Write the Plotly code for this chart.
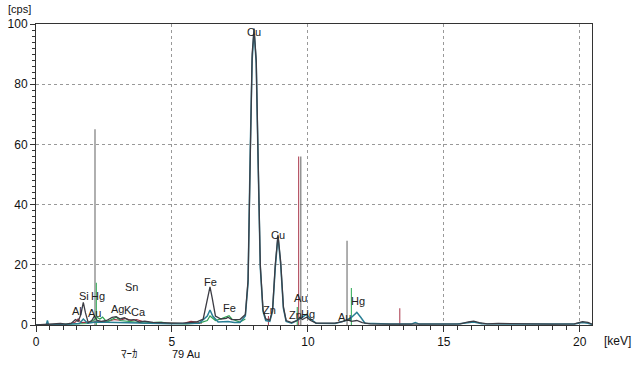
import plotly.graph_objects as go

# ---- data ----
# main spectrum (dark)
dark_e = [0.0, 0.3, 0.6, 0.9, 1.1, 1.3, 1.45, 1.55, 1.65, 1.74, 1.82, 1.92, 2.05, 2.15, 2.25, 2.4, 2.6, 2.8, 2.95,
          3.1, 3.25, 3.4, 3.6, 3.8, 4.0, 4.3, 4.6, 5.0, 5.5, 5.9, 6.15, 6.3, 6.4, 6.48, 6.6, 6.8, 7.0, 7.06, 7.2,
          7.5, 7.7, 7.8, 7.88, 7.95, 8.02, 8.1, 8.17, 8.25, 8.35, 8.45, 8.6, 8.7, 8.8, 8.9, 9.0, 9.1, 9.2, 9.4,
          9.6, 9.7, 9.8, 9.95, 10.1, 10.3, 10.6, 11.0, 11.3, 11.45, 11.6, 11.8, 12.0, 12.3, 13.0, 14.0, 15.0,
          15.6, 15.9, 16.1, 16.3, 16.6, 17.0, 18.0, 19.0, 19.8, 20.1, 20.3, 20.45]
dark_c = [0.0, 0.2, 0.3, 0.5, 0.3, 0.6, 1.8, 1.2, 3.5, 7.5, 4.0, 0.8, 1.5, 3.0, 1.5, 1.2, 1.5, 2.5, 2.8,
          2.0, 2.4, 1.6, 1.8, 1.0, 1.3, 0.9, 0.8, 0.6, 0.7, 1.0, 2.0, 8.0, 12.7, 9.0, 3.0, 2.0, 2.2, 2.6, 1.8,
          1.8, 3.5, 15.0, 60.0, 90.0, 98.5, 88.0, 55.0, 20.0, 5.0, 2.0, 1.6, 5.0, 20.0, 30.0, 21.0, 6.0, 1.5, 0.8,
          1.5, 2.5, 1.8, 2.6, 1.5, 0.6, 0.6, 0.6, 1.2, 1.8, 1.2, 1.5, 0.8, 0.4, 0.3, 0.3, 0.3,
          0.4, 1.0, 1.3, 0.8, 0.4, 0.5, 0.3, 0.3, 0.4, 1.1, 0.9, 0.3]

# second spectrum (teal)
teal_e = [0.0, 0.38, 0.42, 0.46, 1.0, 1.6, 1.74, 1.9, 2.2, 3.0, 4.0, 5.0, 6.0, 6.3, 6.4, 6.5, 6.7, 7.06, 7.3,
          7.5, 7.7, 7.8, 7.88, 7.95, 8.02, 8.1, 8.17, 8.25, 8.35, 8.45, 8.6, 8.7, 8.8, 8.9, 9.0, 9.1, 9.2, 9.4,
          9.6, 9.7, 9.85, 9.95, 10.1, 10.3, 11.0, 11.4, 11.6, 11.8, 11.95, 12.1, 13.0, 13.8, 13.95, 14.1,
          15.5, 15.9, 16.1, 16.4, 18.0, 19.8, 20.1, 20.3, 20.45]
teal_c = [0.0, 0.1, 1.5, 0.1, 0.2, 0.5, 2.0, 0.6, 1.0, 0.8, 0.5, 0.4, 0.6, 3.0, 5.0, 3.0, 1.0, 1.2, 0.8,
          0.8, 3.0, 14.0, 58.0, 88.0, 98.0, 87.0, 54.0, 19.0, 4.5, 1.5, 1.2, 4.5, 19.0, 29.5, 20.0, 5.5, 1.2, 0.6,
          1.5, 2.0, 3.0, 3.5, 2.0, 0.6, 0.5, 1.5, 2.5, 4.2, 2.5, 0.6, 0.3, 0.3, 0.8, 0.3,
          0.3, 0.8, 1.0, 0.4, 0.3, 0.3, 0.8, 0.6, 0.2]

# third spectrum (green), partial
green_e = [0.0, 1.0, 1.9, 2.1, 2.25, 2.35, 2.45, 2.6, 2.8, 2.95, 3.1, 3.3, 3.6, 4.0, 4.4, 4.6, 4.8, 5.5, 6.0,
           6.3, 6.4, 6.6, 6.85, 7.0, 7.1, 7.2, 7.5, 7.7]
green_c = [0.0, 0.2, 0.5, 1.5, 2.5, 2.0, 2.6, 1.0, 1.8, 2.6, 1.5, 1.3, 0.8, 0.6, 0.9, 1.0, 0.6, 0.4, 0.6,
           1.5, 3.0, 1.5, 2.2, 2.6, 3.1, 2.0, 1.0, 2.0]

# fourth spectrum (red), partial
red_e = [1.2, 1.45, 1.55, 1.65, 2.6, 2.9, 3.1, 3.3, 3.5, 3.7, 3.9, 4.2, 5.4, 5.7, 5.9, 6.1]
red_c = [0.2, 1.0, 2.0, 0.8, 1.2, 1.8, 1.6, 2.2, 1.5, 1.8, 1.2, 0.8, 0.5, 1.2, 1.0, 0.6]

# element marker lines: energy, height, colour key
mark_e = [2.17, 2.22, 8.55, 9.61, 9.66, 9.74, 11.44, 11.6, 13.38]
mark_h = [65.0, 14.0, 3.0, 6.0, 56.0, 56.0, 28.0, 12.3, 5.6]
mark_k = ["gray", "green", "red", "green", "red", "gray", "gray", "green", "red"]

# peak labels
lab_txt = ["Cu", "Cu", "Fe", "Fe", "Zn", "Au", "Zn", "Hg", "Au", "Hg",
           "Si", "Hg", "Al", "Au", "Sn", "Ag", "K", "Ca"]
lab_e = [8.0, 8.9, 6.43, 7.1, 8.6, 9.72, 9.56, 10.02, 11.33, 11.83,
         1.76, 2.28, 1.5, 2.15, 3.5, 3.0, 3.38, 3.78]
lab_c = [97.5, 30.0, 14.3, 5.6, 5.0, 9.0, 3.2, 3.8, 2.8, 8.0,
         9.6, 9.8, 4.6, 4.0, 12.6, 5.3, 5.0, 4.4]

x_ticks = [0, 5, 10, 15, 20]
y_ticks = [0, 20, 40, 60, 80, 100]

colors = {"gray": "#6e6e6e", "green": "#3cb060", "red": "#b0485a"}
FONT = "Liberation Sans, Arial, sans-serif"

fig = go.Figure()

# marker lines
for key in ["gray", "green", "red"]:
    xs, ys = [], []
    for e, h, k in zip(mark_e, mark_h, mark_k):
        if k == key:
            xs += [e, e, None]
            ys += [0, h, None]
    fig.add_trace(go.Scatter(x=xs, y=ys, mode="lines",
                             line=dict(color=colors[key], width=1.1), hoverinfo="skip"))

fig.add_trace(go.Scatter(x=red_e, y=red_c, mode="lines", line=dict(color="#9a3040", width=1.1)))
fig.add_trace(go.Scatter(x=green_e, y=green_c, mode="lines", line=dict(color="#30a055", width=1.2)))
fig.add_trace(go.Scatter(x=teal_e, y=teal_c, mode="lines", line=dict(color="#2a7f95", width=1.5)))
fig.add_trace(go.Scatter(x=dark_e, y=dark_c, mode="lines", line=dict(color="#3c3c44", width=1.3)))

for t, e, c in zip(lab_txt, lab_e, lab_c):
    fig.add_annotation(x=e, y=c, text=t, showarrow=False,
                       font=dict(family=FONT, size=11, color="#222"), yanchor="middle")

fig.update_xaxes(range=[0, 20.45], tickvals=x_ticks, showgrid=True, gridcolor="#999",
                 griddash="dot", gridwidth=1, showline=True, linecolor="#333", linewidth=1,
                 mirror=True, ticks="outside", ticklen=6, tickcolor="#333", automargin=False,
                 minor=dict(dtick=0.5, ticks="outside", ticklen=4, tickcolor="#333", showgrid=False),
                 tickfont=dict(family=FONT, size=12, color="#111"), zeroline=False)
fig.update_yaxes(range=[0, 100], tickvals=y_ticks, showgrid=True, gridcolor="#999",
                 griddash="dot", gridwidth=1, showline=True, linecolor="#333", linewidth=1,
                 mirror=True, ticks="outside", ticklen=5, tickcolor="#333", automargin=False,
                 minor=dict(dtick=2, ticks="outside", ticklen=3, tickcolor="#333", showgrid=False),
                 tickfont=dict(family=FONT, size=12, color="#111"), zeroline=False)

fig.add_annotation(xref="paper", yref="paper", x=0, xshift=-30, y=1.0, yshift=15, text="[cps]",
                   showarrow=False, font=dict(family=FONT, size=11, color="#111"),
                   xanchor="left", yanchor="middle")
fig.add_annotation(xref="paper", yref="paper", x=1.0, y=0, xshift=25, yshift=-16, text="[keV]",
                   showarrow=False, font=dict(family=FONT, size=12, color="#111"),
                   xanchor="center", yanchor="middle")
fig.add_annotation(xref="paper", yref="paper", x=0.169, y=0, yshift=-28, text="ﾏｰｶ",
                   showarrow=False, font=dict(family="Noto Sans CJK JP", size=11, color="#111"),
                   xanchor="center", yanchor="middle")
fig.add_annotation(xref="paper", yref="paper", x=0.27, y=0, yshift=-29, text="79 Au",
                   showarrow=False, font=dict(family=FONT, size=11, color="#111"),
                   xanchor="center", yanchor="middle")

fig.update_layout(width=642, height=370, margin=dict(l=36, r=50, t=24, b=45, autoexpand=False),
                  paper_bgcolor="white", plot_bgcolor="white", showlegend=False)

# remove the page's default body margin so the figure sits at the window's corner
fig.write_html("out.html", config={"displayModeBar": False},
               post_script="document.body.style.margin='0';")
